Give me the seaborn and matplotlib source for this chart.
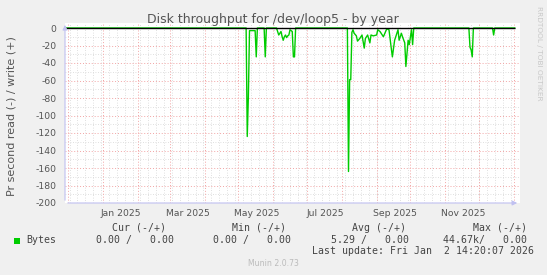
import matplotlib
matplotlib.use("Agg")
import matplotlib.pyplot as plt
import matplotlib.dates as mdates
import pandas as pd
import seaborn as sns
from matplotlib.patches import Rectangle

# ---------------- data ----------------
title = "Disk throughput for /dev/loop5 - by year"
ylabel = "Pr second read (-) / write (+)"
series_name = "Bytes"

dates = [
    "2024-11-28", "2025-05-08", "2025-05-09", "2025-05-10", "2025-05-11", "2025-05-16",
    "2025-05-17", "2025-05-18", "2025-05-24", "2025-05-25", "2025-05-26", "2025-06-04",
    "2025-06-05", "2025-06-06", "2025-06-07", "2025-06-08", "2025-06-09", "2025-06-10",
    "2025-06-11", "2025-06-12", "2025-06-13", "2025-06-14", "2025-06-15", "2025-06-16",
    "2025-06-17", "2025-06-18", "2025-06-19", "2025-06-20", "2025-06-21", "2025-08-06",
    "2025-08-07", "2025-08-08", "2025-08-09", "2025-08-10", "2025-08-11", "2025-08-12",
    "2025-08-14", "2025-08-15", "2025-08-17", "2025-08-18", "2025-08-19", "2025-08-21",
    "2025-08-22", "2025-08-24", "2025-08-26", "2025-08-27", "2025-08-29", "2025-09-01",
    "2025-09-02", "2025-09-04", "2025-09-05", "2025-09-07", "2025-09-10", "2025-09-12",
    "2025-09-14", "2025-09-15", "2025-09-17", "2025-09-18", "2025-09-20", "2025-09-21",
    "2025-09-23", "2025-09-24", "2025-09-26", "2025-09-27", "2025-09-29", "2025-09-30",
    "2025-10-02", "2025-10-03", "2025-10-04", "2025-11-22", "2025-11-23", "2025-11-24",
    "2025-11-25", "2025-11-26", "2025-12-13", "2025-12-14", "2025-12-15", "2026-01-02",
]
values = [
    0, 0, -124, -78, -3, -3,
    -33, 0, 0, -33, 0, 0,
    -4, -8, -6, -4, -10, -14,
    -10, -8, -11, -9, -8, -2,
    -3, -4, -33, -33, 0, 0,
    -164, -59, -59, -5, -2, -6,
    -9, -15, -12, -10, -8, -23,
    -12, -8, -17, -8, -9, -8,
    -2, -4, -6, -10, -1, -2,
    -23, -33, -14, -10, -2, -14,
    -6, -10, -17, -44, -14, -19,
    -2, -19, 0, 0, -22, -25,
    -33, 0, 0, -8, 0, 0,
]

y_ticks = [0, -20, -40, -60, -80, -100, -120, -140, -160, -180, -200]
label_months = [1, 3, 5, 7, 9, 11]

legend_headers = ["Cur (-/+)", "Min (-/+)", "Avg (-/+)", "Max (-/+)"]
legend_values = ["0.00 /   0.00", "0.00 /   0.00", "5.29 /   0.00", "44.67k/   0.00"]
last_update = "Last update: Fri Jan  2 14:20:07 2026"
munin_version = "Munin 2.0.73"
watermark = "RRDTOOL / TOBI OETIKER"

# ---------------- figure ----------------
W, H = 547, 275
DPI = 100
sns.set_style("white")
plt.rcParams["font.family"] = ["DejaVu Sans"]

fig = plt.figure(figsize=(W / DPI, H / DPI), dpi=DPI, facecolor="#F0F0F0")

# plot area (pixel coords of reference)
px_left, px_right, px_top, px_bottom = 65, 520, 23, 203
ax = fig.add_axes([px_left / W, 1 - px_bottom / H,
                   (px_right - px_left) / W, (px_bottom - px_top) / H])
ax.set_facecolor("white")

df = pd.DataFrame({"date": pd.to_datetime(dates), "value": values})
x0 = df["date"].min()
x_end = df["date"].max()
px_per_day = 1.125
xmax = x0 + pd.Timedelta(days=(px_right - px_left) / px_per_day)
ymax = (203 - 28) / 200 * 0 + (28 - px_top) / 0.875

ax.set_xlim(x0, xmax)
ax.set_ylim(-200, ymax)

# grids
major_c = "#F2A5A5"
minor_c = "#D5D5D5"
dot = (0, (1, 2))
weeks = pd.date_range(x0, x_end, freq="W-MON")
ax.vlines(weeks, -200, ymax, colors=minor_c, linestyles=dot, linewidth=0.6, zorder=0)
for yv in range(-190, 0, 20):
    ax.axhline(yv, color=minor_c, linestyle=dot, linewidth=0.6, zorder=0)
months = pd.date_range(x0, x_end, freq="MS")
ax.vlines(months, -200, ymax, colors=major_c, linestyles=dot, linewidth=0.7, zorder=0.5)
for yv in y_ticks[1:]:
    ax.axhline(yv, color=major_c, linestyle=dot, linewidth=0.7, zorder=0.5)

# data
sns.lineplot(data=df, x="date", y="value", color="#00CC00", linewidth=1.0,
             ax=ax, zorder=2, sort=False)
ax.hlines(0, x0, x_end, colors="black", linewidth=1.0, zorder=3)

# axis arrows
arrow_c = "#C0C0F0"
ax.annotate("", xy=(xmax, -200), xytext=(x0, -200),
            arrowprops=dict(arrowstyle="-|>", color=arrow_c, lw=0.8, mutation_scale=7),
            annotation_clip=False, zorder=4)
ax.annotate("", xy=(x0, ymax + 1), xytext=(x0, -200),
            arrowprops=dict(arrowstyle="-|>", color=arrow_c, lw=0.8, mutation_scale=7),
            annotation_clip=False, zorder=4)

for s in ax.spines.values():
    s.set_visible(False)

# ticks
txt_c = "#555555"
ax.set_yticks(y_ticks)
ax.set_yticklabels([str(v) for v in y_ticks])
ax.tick_params(axis="y", length=2, color=major_c, labelsize=6.7, labelcolor=txt_c, pad=4)

ax.xaxis.set_major_locator(mdates.MonthLocator(bymonthday=1))
ax.xaxis.set_major_formatter(plt.NullFormatter())
ax.xaxis.set_minor_locator(mdates.MonthLocator(bymonth=label_months, bymonthday=17))
ax.xaxis.set_minor_formatter(mdates.DateFormatter("%b %Y"))
ax.tick_params(axis="x", which="major", length=2, color=major_c)
ax.tick_params(axis="x", which="minor", length=0, labelsize=6.7, labelcolor=txt_c, pad=4)
ax.set_xlabel("")
ax.set_ylabel("")

# texts
def ft(x, y, s, **kw):
    fig.text(x / W, 1 - y / H, s, **kw)

ft(273, 19, title, ha="center", va="center", fontsize=9, color="#555555")
ft(12, 116, ylabel, ha="center", va="center", rotation=90, fontsize=8, color="#555555")
ft(539, 53, watermark, ha="center", va="center", rotation=270, fontsize=5.3, color="#C8C8C8")
ft(273, 264, munin_version, ha="center", va="center", fontsize=5.6, color="#BBBBBB")

mono = dict(family="DejaVu Sans Mono", fontsize=7.1, color="#444444", va="center", ha="left")
header_x = [111.7, 231.7, 351.7, 472.7]
value_x = [95.7, 213.3, 330.7, 442.7]
for hx, h in zip(header_x, legend_headers):
    ft(hx, 228, h, **mono)
for vx, v in zip(value_x, legend_values):
    ft(vx, 240, v, **mono)
ft(26, 240, series_name, **mono)
ft(311.7, 251.5, last_update, **mono)

fig.patches.append(Rectangle((14 / W, 1 - 243.5 / H), 6 / W, 5.5 / H,
                             transform=fig.transFigure, facecolor="#00CC00",
                             edgecolor="none"))

fig.savefig("out.png", dpi=DPI, facecolor=fig.get_facecolor())
